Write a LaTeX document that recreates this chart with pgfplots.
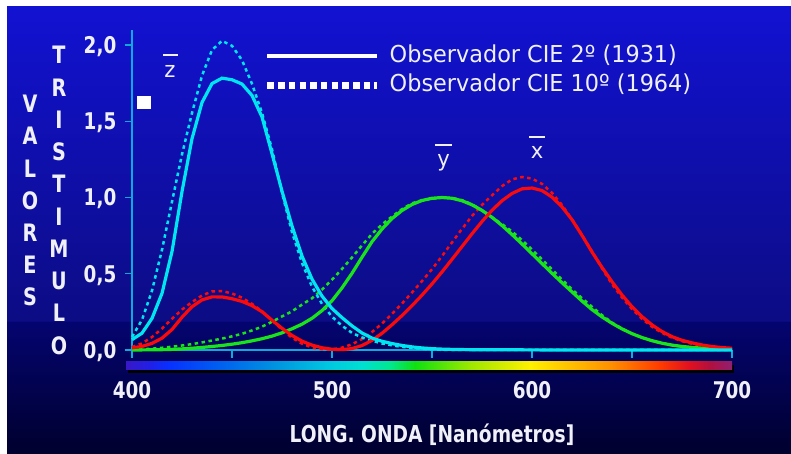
\documentclass[border=0pt]{standalone}
\usepackage{pgfplots}
\pgfplotsset{compat=1.18}
\usepackage{pgfplotstable}
\usepackage{fontspec}
\setmainfont{DejaVu Sans}[FakeStretch=0.96]
\newfontfamily\bl{DejaVu Sans}[FakeStretch=0.8]

\definecolor{cyC}{RGB}{0,230,240}
\definecolor{grC}{RGB}{25,228,25}
\definecolor{rdC}{RGB}{250,10,10}
\definecolor{axC}{RGB}{16,170,216}
\definecolor{bgTop}{RGB}{18,18,210}
\definecolor{bgMid}{RGB}{12,12,132}
\definecolor{bgLow}{RGB}{4,4,112}
\definecolor{bgBot}{RGB}{0,0,46}
\definecolor{txC}{RGB}{240,240,248}

\pgfdeclareverticalshading{bgshade}{100bp}{color(0bp)=(bgBot); color(25bp)=(bgBot); color(39.8bp)=(bgLow); color(39.9bp)=(bgMid); color(75bp)=(bgTop); color(100bp)=(bgTop)}
\pgfdeclarehorizontalshading{spectrum}{100bp}{rgb(0bp)=(0.22,0.094,0.78); rgb(25bp)=(0.22,0.094,0.78); rgb(27bp)=(0.125,0.125,0.91); rgb(28.5bp)=(0.03,0.19,1); rgb(32.75bp)=(0,0.376,0.94); rgb(37bp)=(0,0.565,0.878); rgb(41.75bp)=(0,0.784,0.878); rgb(44.5bp)=(0,0.878,0.816); rgb(46.75bp)=(0,0.91,0.565); rgb(48.85bp)=(0.063,0.878,0.063); rgb(53.5bp)=(0.627,0.91,0); rgb(58.35bp)=(1,0.94,0); rgb(61.65bp)=(1,0.753,0); rgb(65bp)=(1,0.565,0); rgb(69bp)=(1,0.235,0); rgb(71.5bp)=(0.878,0.063,0.125); rgb(73.2bp)=(0.69,0.063,0.25); rgb(75bp)=(0.565,0.125,0.44); rgb(100bp)=(0.565,0.125,0.44)}

\pgfplotstableread{
nm x2 y2 z2 x10 y10 z10
400 0.01431 0.000396 0.06785 0.01911 0.002004 0.086011
405 0.02319 0.00064 0.1102 0.0434 0.004509 0.19712
410 0.04351 0.00121 0.2074 0.084736 0.008756 0.389366
415 0.07763 0.00218 0.3713 0.140638 0.014456 0.65676
420 0.13438 0.004 0.6456 0.204492 0.021391 0.972542
425 0.21477 0.0073 1.03905 0.264737 0.029497 1.2825
430 0.2839 0.0116 1.3856 0.314679 0.038676 1.55348
435 0.3285 0.01684 1.62296 0.357719 0.049602 1.7985
440 0.34828 0.023 1.74706 0.383734 0.062077 1.96728
445 0.34806 0.0298 1.7826 0.386726 0.074704 2.0273
450 0.3362 0.038 1.77211 0.370702 0.089456 1.9948
455 0.3187 0.048 1.7441 0.342957 0.106256 1.9007
460 0.2908 0.06 1.6692 0.302273 0.128201 1.74537
465 0.2511 0.0739 1.5281 0.254085 0.152761 1.5549
470 0.19536 0.09098 1.28764 0.195618 0.18519 1.31756
475 0.1421 0.1126 1.0419 0.132349 0.21994 1.0302
480 0.09564 0.13902 0.81295 0.080507 0.253589 0.772125
485 0.05795 0.1693 0.6162 0.041072 0.297665 0.57006
490 0.03201 0.20802 0.46518 0.016172 0.339133 0.415254
495 0.0147 0.2586 0.3533 0.005132 0.395379 0.302356
500 0.0049 0.323 0.272 0.003816 0.460777 0.218502
505 0.0024 0.4073 0.2123 0.015444 0.53136 0.159249
510 0.0093 0.503 0.1582 0.037465 0.606741 0.112044
515 0.0291 0.6082 0.1117 0.071358 0.68566 0.082248
520 0.06327 0.71 0.07825 0.117749 0.761757 0.060709
525 0.1096 0.7932 0.05725 0.172953 0.82333 0.04305
530 0.1655 0.862 0.04216 0.236491 0.875211 0.030451
535 0.22575 0.91485 0.02984 0.304213 0.92381 0.020584
540 0.2904 0.954 0.0203 0.376772 0.961988 0.013676
545 0.3597 0.9803 0.0134 0.451584 0.9822 0.007918
550 0.43345 0.99495 0.00875 0.529826 0.991761 0.003988
555 0.51205 1.0 0.00575 0.616053 0.99911 0.001091
560 0.5945 0.995 0.0039 0.705224 0.99734 0
565 0.6784 0.9786 0.00275 0.793832 0.98238 0
570 0.7621 0.952 0.0021 0.878655 0.955552 0
575 0.8425 0.9154 0.0018 0.951162 0.915175 0
580 0.9163 0.87 0.00165 1.01416 0.868934 0
585 0.9786 0.8163 0.0014 1.0743 0.825623 0
590 1.0263 0.757 0.0011 1.11852 0.777405 0
595 1.0567 0.6949 0.001 1.1343 0.720353 0
600 1.0622 0.631 0.0008 1.12399 0.658341 0
605 1.0456 0.5668 0.0006 1.0891 0.593878 0
610 1.0026 0.503 0.00034 1.03048 0.527963 0
615 0.9384 0.4412 0.00024 0.95074 0.461834 0
620 0.85445 0.381 0.00019 0.856297 0.398057 0
625 0.7514 0.321 0.0001 0.75493 0.339554 0
630 0.6424 0.265 0.00005 0.647467 0.283493 0
635 0.5419 0.217 0.00003 0.53511 0.228254 0
640 0.4479 0.175 0.00002 0.431567 0.179828 0
645 0.3608 0.1382 0.00001 0.34369 0.140211 0
650 0.2835 0.107 0 0.268329 0.107633 0
655 0.2187 0.0816 0 0.2043 0.081187 0
660 0.1649 0.061 0 0.152568 0.060281 0
665 0.1212 0.04458 0 0.11221 0.044096 0
670 0.0874 0.032 0 0.081261 0.0318 0
675 0.0636 0.0232 0 0.05793 0.022602 0
680 0.04677 0.017 0 0.040851 0.015905 0
685 0.0329 0.01192 0 0.028623 0.01113 0
690 0.0227 0.00821 0 0.019941 0.007749 0
695 0.01584 0.005723 0 0.013842 0.005375 0
700 0.011359 0.004102 0 0.009577 0.003718 0
}\cmf

\begin{document}
\begin{tikzpicture}
\useasboundingbox (0pt,0pt) rectangle (791pt,454pt);
\fill[white] (0pt,0pt) rectangle (791pt,454pt);
\shade[shading=bgshade] (7pt,0pt) rectangle (791pt,447pt);
% spectrum bar with shadow
\fill[black] (128pt,81pt) rectangle (734pt,89pt);
\shade[shading=spectrum] (126pt,84pt) rectangle (732pt,92pt);
% white square
\fill[white] (137pt,345pt) rectangle (151pt,358pt);
% vertical axis title letters
\foreach \l [count=\i] in {V,A,L,O,R,E,S}
  \node[text=txC, inner sep=0pt, font=\bl\bfseries\fontsize{24}{24}\selectfont] at (30pt,{350pt-(\i-1)*32.17pt}) {\l};
\foreach \l [count=\i] in {T,R,I,S,T,I,M,U,L,O}
  \node[text=txC, inner sep=0pt, font=\bl\bfseries\fontsize{24}{24}\selectfont] at (59pt,{399pt-(\i-1)*32.28pt}) {\l};

\begin{axis}[
  at={(132pt,104pt)}, anchor=south west,
  scale only axis, width=600pt, height=320.25pt,
  xmin=400, xmax=700, ymin=0, ymax=2.1,
  axis x line=bottom, axis y line=left,
  axis line style={-, axC, line width=1.3pt},
  xtick={400,450,...,700}, xticklabels={400,,500,,600,,700},
  ytick={0,0.5,...,2}, yticklabels={{0,0},{0,5},{1,0},{1,5},{2,0}},
  tick align=outside, major tick length=7.5pt,
  tick style={axC, line width=1.3pt},
  xticklabel style={font=\bl\bfseries\fontsize{23}{23}\selectfont, text=txC, inner sep=0pt, anchor=base, yshift=-41pt},
  yticklabel style={font=\bl\bfseries\fontsize{23}{23}\selectfont, text=txC, inner sep=0pt, anchor=base east, xshift=-8pt, yshift=-8.4pt},
  xlabel={LONG. ONDA [Nanómetros]},
  xlabel style={at={(rel axis cs:0.5,0)}, anchor=base, yshift=-92pt, font=\bl\bfseries\fontsize{23.3}{24}\selectfont, text=txC},
  clip=false,
  legend image code/.code={\draw[#1] (0pt,-2pt) -- (110pt,-2pt);},
  legend style={at={(axis cs:466,2.005)}, anchor=north west, draw=none, fill=none, inner sep=0pt,
    nodes={inner sep=0pt, text=txC}, font=\fontsize{23.3}{24}\selectfont, column sep=9pt, row sep=10.5pt},
  legend cell align=left,
]
\addlegendimage{white, line width=4pt}
\addlegendentry{Observador CIE 2º (1931)}
\addlegendimage{white, line width=6.5pt, dash pattern=on 6.5pt off 4.2pt}
\addlegendentry{Observador CIE 10º (1964)}

\addplot[forget plot, grC, line width=2.5pt, dash pattern=on 3.5pt off 3.5pt] table[x=nm, y=y10] {\cmf};
\addplot[forget plot, rdC, line width=2.5pt, dash pattern=on 3.5pt off 3.5pt] table[x=nm, y=x10] {\cmf};
\addplot[forget plot, cyC, line width=2.5pt, dash pattern=on 3.5pt off 3.5pt] table[x=nm, y=z10] {\cmf};
\addplot[forget plot, grC, line width=3.2pt] table[x=nm, y=y2] {\cmf};
\addplot[forget plot, rdC, line width=3.2pt] table[x=nm, y=x2] {\cmf};
\addplot[forget plot, cyC, line width=3.2pt] table[x=nm, y=z2] {\cmf};

% curve names
\node[text=txC, inner sep=0pt, anchor=base, font=\fontsize{22}{22}\selectfont] at (axis cs:419,1.790) {z};
\draw[txC, line width=1.5pt] (axis cs:415.5,1.934) -- (axis cs:423,1.934);
\node[text=txC, inner sep=0pt, anchor=base, font=\fontsize{22}{22}\selectfont] at (axis cs:555.75,1.2) {y};
\draw[txC, line width=1.5pt] (axis cs:551.5,1.344) -- (axis cs:560,1.344);
\node[text=txC, inner sep=0pt, anchor=base, font=\fontsize{22}{22}\selectfont] at (axis cs:602.5,1.2525) {x};
\draw[txC, line width=1.5pt] (axis cs:598.5,1.397) -- (axis cs:606.5,1.397);
\end{axis}
\end{tikzpicture}
\end{document}
